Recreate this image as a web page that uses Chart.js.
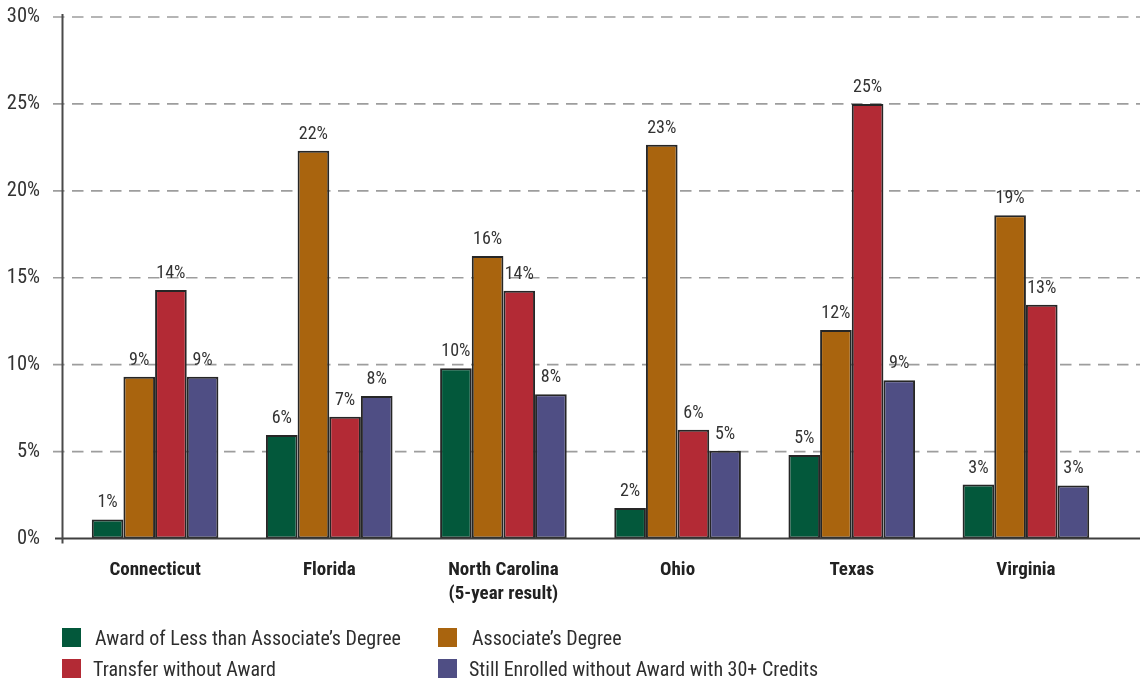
<!DOCTYPE html>
<html>
<head>
<meta charset="utf-8">
<script src="https://cdn.jsdelivr.net/npm/chart.js@4"></script>
<style>
  html, body { margin: 0; padding: 0; background: #fff; }
  #wrap { position: relative; width: 1140px; height: 682px; overflow: hidden; }
  #c { position: absolute; left: 0; top: 0; }
  .leg { position: absolute; font-family: Roboto, 'DejaVu Sans Condensed', sans-serif; font-stretch: 87.5%; font-size: 20px; color: #2e2e2e; white-space: nowrap; line-height: 20px; }
  .sw { position: absolute; width: 19px; height: 19px; }
</style>
</head>
<body>
<div id="wrap">
  <canvas id="c" width="1140" height="682"></canvas>
  <div id="legend"></div>
</div>
<script>
// ---- data ----
const categories = [
  ['Connecticut'],
  ['Florida'],
  ['North Carolina', '(5-year result)'],
  ['Ohio'],
  ['Texas'],
  ['Virginia']
];
const seriesNames = [
  'Award of Less than Associate\u2019s Degree',
  'Associate\u2019s Degree',
  'Transfer without Award',
  'Still Enrolled without Award with 30+ Credits'
];
const awardLessThanAssociate = [1.1, 5.95, 9.8, 1.75, 4.8, 3.1];
const associateDegree        = [9.3, 22.3, 16.25, 22.65, 12.0, 18.6];
const transferWithoutAward   = [14.3, 7.0, 14.25, 6.25, 25.0, 13.45];
const stillEnrolled30Plus    = [9.3, 8.2, 8.3, 5.05, 9.1, 3.05];
const yTicks = [0, 5, 10, 15, 20, 25, 30];

// ---- styles ----
const FAMILY = "Roboto, 'DejaVu Sans Condensed', sans-serif";
const colors = ['#03583b', '#a9640e', '#b32a35', '#4f4e84'];
const seriesData = [awardLessThanAssociate, associateDegree, transferWithoutAward, stillEnrolled30Plus];
const TARGET = { left: 68, top: 17, right: 1113, bottom: 538.5 };

const framePlugin = {
  id: 'frame',
  beforeDatasetsDraw(chart) {
    const { ctx, chartArea, scales: { y } } = chart;
    ctx.save();
    ctx.lineWidth = 1.6;
    ctx.strokeStyle = '#9d9d9d';
    ctx.setLineDash([11.5, 7.5]);
    yTicks.forEach(t => {
      if (t === 0) return;
      const py = y.getPixelForValue(t);
      ctx.beginPath();
      ctx.moveTo(chartArea.left - 15, py);
      ctx.lineTo(chart.width, py);
      ctx.stroke();
    });
    ctx.restore();
  },
  afterDatasetsDraw(chart) {
    const { ctx, chartArea, scales: { y } } = chart;
    ctx.save();
    const y0 = y.getPixelForValue(0);
    ctx.strokeStyle = '#3f3f3f';
    ctx.lineWidth = 2;
    ctx.beginPath();
    ctx.moveTo(chartArea.left - 13, y0);
    ctx.lineTo(chart.width, y0);
    ctx.stroke();
    const ax = chartArea.left - 5.5;
    ctx.strokeStyle = '#4a4a4a';
    ctx.beginPath();
    ctx.moveTo(ax, chartArea.top - 3);
    ctx.lineTo(ax, y0 + 5);
    ctx.stroke();
    ctx.fillStyle = '#333';
    ctx.font = 'normal semi-condensed 18px ' + FAMILY;
    ctx.textAlign = 'center';
    ctx.textBaseline = 'alphabetic';
    chart.data.datasets.forEach((ds, di) => {
      const meta = chart.getDatasetMeta(di);
      meta.data.forEach((bar, i) => {
        ctx.fillText(Math.round(ds.data[i]) + '%', bar.x, bar.y - 12);
      });
    });
    ctx.restore();
  }
};

const chart = new Chart(document.getElementById('c'), {
  type: 'bar',
  data: {
    labels: categories,
    datasets: seriesNames.map((name, i) => ({
      label: name,
      data: seriesData[i],
      backgroundColor: colors[i],
      borderColor: '#262626',
      borderWidth: 2,
      borderSkipped: false,
      categoryPercentage: 0.727,
      barPercentage: 1.0
    }))
  },
  options: {
    responsive: false,
    animation: false,
    devicePixelRatio: 1,
    layout: { padding: { left: 0, right: 1140 - TARGET.right, top: TARGET.top, bottom: 682 - TARGET.bottom - 70 } },
    plugins: { legend: { display: false }, tooltip: { enabled: false } },
    scales: {
      x: {
        grid: { display: false },
        border: { display: false },
        ticks: {
          color: '#222',
          font: { family: FAMILY, size: 19, weight: 'bold semi-condensed', lineHeight: 1.25 },
          padding: 12,
          maxRotation: 0,
          autoSkip: false
        },
        afterFit(scale) { scale.height = 70; scale.paddingLeft = 0; scale.paddingRight = 0; }
      },
      y: {
        min: 0, max: 30,
        grid: { display: false },
        border: { display: false },
        afterBuildTicks(scale) { scale.ticks = yTicks.map(v => ({ value: v })); },
        ticks: {
          color: '#333',
          font: { family: FAMILY, size: 20.5, weight: 'semi-condensed' },
          padding: 20,
          callback: v => v + '%'
        },
        afterFit(scale) { scale.width = TARGET.left; scale.paddingTop = 0; scale.paddingBottom = 0; }
      }
    }
  },
  plugins: [framePlugin]
});

// correct any residual layout offset so the plot area lands where intended
(function fixLayout() {
  const ca = chart.chartArea;
  const p = chart.options.layout.padding;
  p.top += TARGET.top - ca.top;
  p.right += ca.right - TARGET.right;
  p.bottom += ca.bottom - TARGET.bottom;
  chart.update();
})();

// ---- HTML legend ----
const legendPos = [
  { sx: 62, sy: 628, tx: 95, ty: 628 },
  { sx: 438, sy: 628, tx: 472, ty: 628 },
  { sx: 62, sy: 659, tx: 93, ty: 659 },
  { sx: 438, sy: 659, tx: 469, ty: 659 }
];
const legend = document.getElementById('legend');
seriesNames.forEach((name, i) => {
  const p = legendPos[i];
  const sw = document.createElement('div');
  sw.className = 'sw';
  sw.style.left = p.sx + 'px';
  sw.style.top = p.sy + 'px';
  sw.style.background = colors[i];
  legend.appendChild(sw);
  const t = document.createElement('div');
  t.className = 'leg';
  t.style.left = p.tx + 'px';
  t.style.top = p.ty + 'px';
  t.textContent = name;
  legend.appendChild(t);
});
</script>
</body>
</html>
